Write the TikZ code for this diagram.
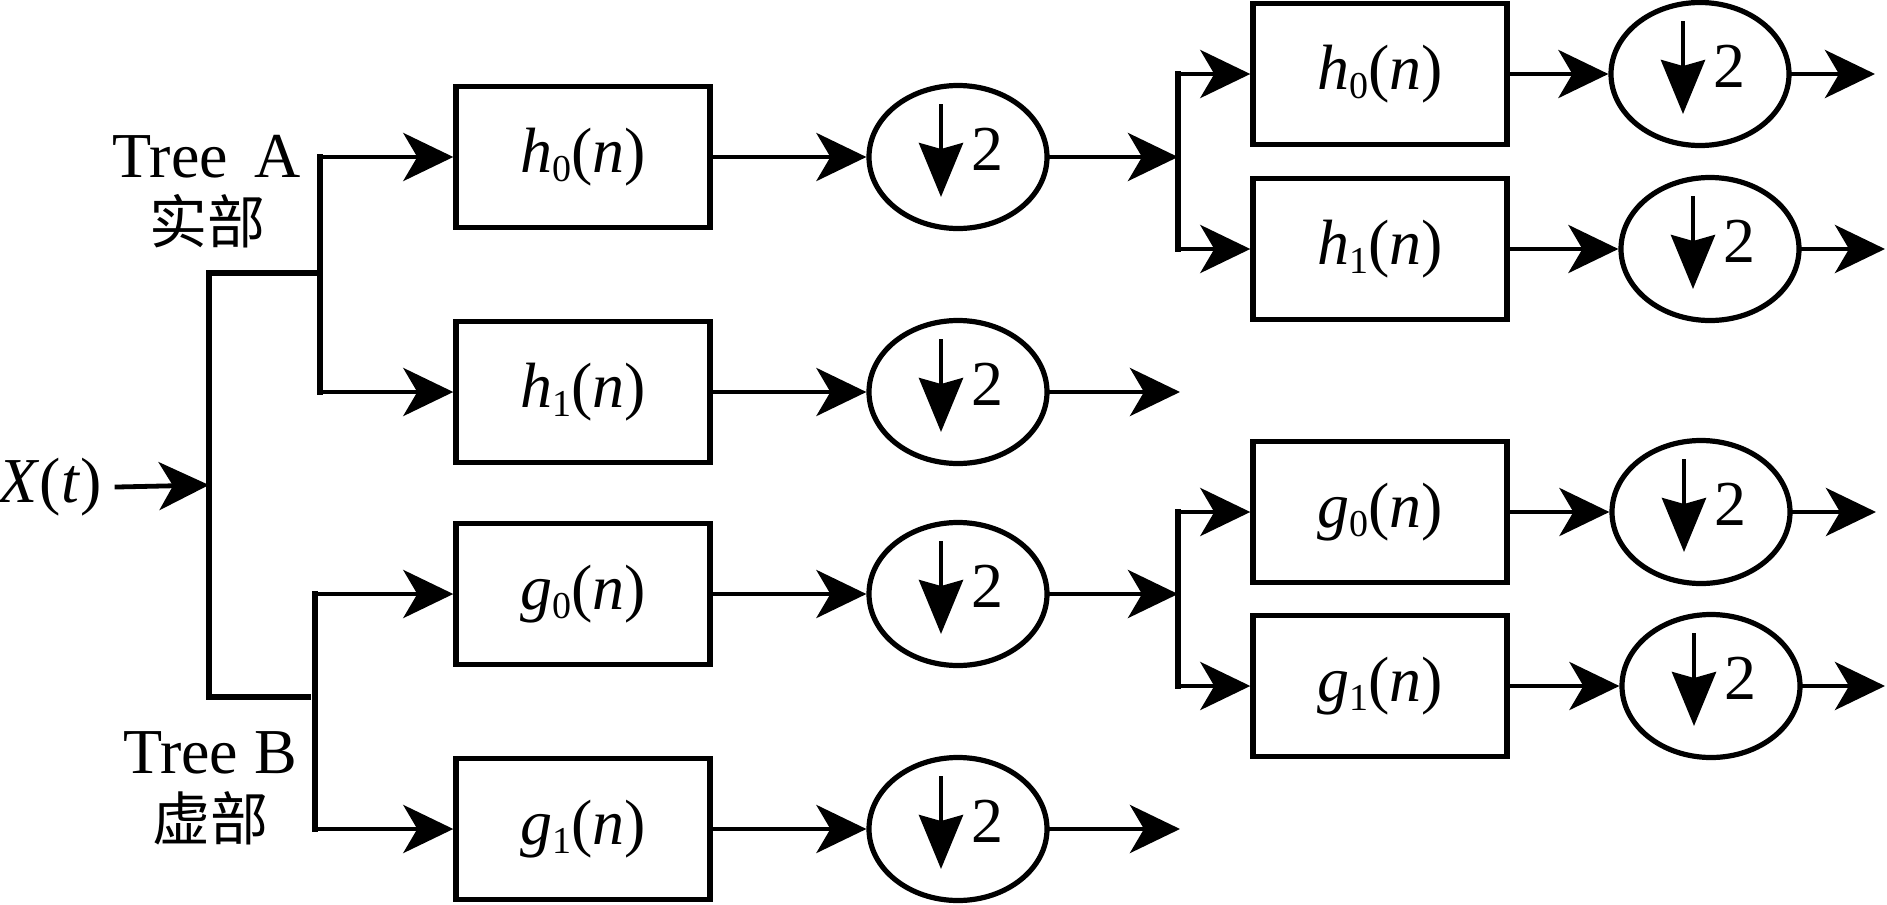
\documentclass[tikz,border=0pt]{standalone}
\usepackage{fontspec}
\usepackage{graphicx}
\setmainfont{Liberation Serif}[ItalicFont={Liberation Serif Italic}]
\newfontfamily\cjkfont{Noto Sans CJK SC}
\usetikzlibrary{arrows.meta,shapes.geometric}
\newcommand{\lowsub}[1]{\raisebox{-0.14em}{\fontsize{19}{19}\selectfont #1}}
\tikzset{
  fbox/.style={draw, line width=2.7pt, minimum width=127pt, minimum height=70.5pt, inner sep=0pt, font=\fontsize{32}{38}\selectfont},
  dsell/.style={draw, ellipse, line width=2.6pt, minimum width=89pt, minimum height=71.5pt, inner sep=0pt},
  conn/.style={line width=2.4pt, line cap=rect, -{Stealth[length=25pt,width=24pt,inset=7pt]}},
  wire/.style={line width=2.6pt, line cap=rect},
  dnarrow/.style={line width=2.2pt, -{Stealth[length=27pt,width=22pt,inset=3pt]}},
  lbl/.style={font=\fontsize{32}{38}\selectfont, inner sep=0pt},
  cjklbl/.style={font=\cjkfont\fontsize{29}{34}\selectfont, inner sep=0pt},
  twolbl/.style={font=\fontsize{32}{38}\selectfont, inner sep=0pt},
}
\newcommand{\downsamp}[2]{%
  \draw[dnarrow] ([shift={(-17,-53)}]#1.center) -- ([shift={(-17,40)}]#1.center);
  \node[twolbl] (#2) at ([shift={(29,-8)}]#1.center) {2};
}
\begin{document}
\begin{tikzpicture}[x=0.5pt, y=-0.5pt]
\useasboundingbox (0,0) rectangle (1887,905);

% input
\node[lbl, anchor=east] (X) at (102,487) {\textit{X}(\textit{t})};
\coordinate (trM) at (209,485);
\coordinate (trA) at (209,273);
\coordinate (trB) at (209,697);
\coordinate (A0) at (320,273);
\coordinate (B0) at (308,697);
\coordinate (Bx) at (315,697);

% labels
\node[lbl, anchor=base] (tA) at (207,177) {Tree\hspace{0.42em}A};
\node[cjklbl] (cA) at (207,221) {实部};
\node[lbl, anchor=base] (tB) at (210,773) {Tree B};
\node[cjklbl] (cB) at (210,818) {虚部};

% column 1 filters
\node[fbox] (h0a) at (583,157) {\textit{h}\lowsub{0}(\textit{n})};
\node[fbox] (h1a) at (583,392) {\textit{h}\lowsub{1}(\textit{n})};
\node[fbox] (g0a) at (583,594) {\textit{g}\lowsub{0}(\textit{n})};
\node[fbox] (g1a) at (583,829) {\textit{g}\lowsub{1}(\textit{n})};

% column 1 downsamplers
\node[dsell] (h0b) at (958,157) {};
\node[dsell] (h1b) at (958,392) {};
\node[dsell] (g0b) at (958,594) {};
\node[dsell] (g1b) at (958,829) {};
\downsamp{h0b}{h0bt}
\downsamp{h1b}{h1bt}
\downsamp{g0b}{g0bt}
\downsamp{g1b}{g1bt}

% column 2 filters
\node[fbox] (h0c) at (1380,74) {\textit{h}\lowsub{0}(\textit{n})};
\node[fbox] (h1c) at (1380,249) {\textit{h}\lowsub{1}(\textit{n})};
\node[fbox] (g0c) at (1380,512) {\textit{g}\lowsub{0}(\textit{n})};
\node[fbox] (g1c) at (1380,686) {\textit{g}\lowsub{1}(\textit{n})};

% column 2 downsamplers
\node[dsell] (h0d) at (1700,74) {};
\node[dsell] (h1d) at (1710,249) {};
\node[dsell] (g0d) at (1701,512) {};
\node[dsell] (g1d) at (1711,686) {};
\downsamp{h0d}{h0dt}
\downsamp{h1d}{h1dt}
\downsamp{g0d}{g0dt}
\downsamp{g1d}{g1dt}

% branch coordinates
\coordinate (hv) at (1178,157);
\coordinate (gv) at (1178,594);
\coordinate (oh1) at (1180,392);
\coordinate (og1) at (1180,829);
\coordinate (oh0d) at (1875,74);
\coordinate (oh1d) at (1885,249);
\coordinate (og0d) at (1876,512);
\coordinate (og1d) at (1885,686);

% trunk and trees
\draw[conn] ([xshift=7.5pt]X.east) -- (trM);
\draw[wire] (trA) -- (trB);
\draw[wire] (trA) -- (A0);
\draw[wire] (trB) -- (B0);
\draw[wire] (h0a.west -| A0) -- (h1a.west -| A0);
\draw[conn] (h0a.west -| A0) -- (h0a.west);
\draw[conn] (h1a.west -| A0) -- (h1a.west);
\draw[wire] (g0a.west -| Bx) -- (g1a.west -| Bx);
\draw[conn] (g0a.west -| Bx) -- (g0a.west);
\draw[conn] (g1a.west -| Bx) -- (g1a.west);

% column 1 connections
\draw[conn] (h0a.east) -- (h0b.west);
\draw[conn] (h1a.east) -- (h1b.west);
\draw[conn] (g0a.east) -- (g0b.west);
\draw[conn] (g1a.east) -- (g1b.west);
\draw[conn] (h0b.east) -- (hv);
\draw[conn] (g0b.east) -- (gv);
\draw[conn] (h1b.east) -- (oh1);
\draw[conn] (g1b.east) -- (og1);

% second level branches
\draw[wire] (h0c.west -| hv) -- (h1c.west -| hv);
\draw[conn] (h0c.west -| hv) -- (h0c.west);
\draw[conn] (h1c.west -| hv) -- (h1c.west);
\draw[wire] (g0c.west -| gv) -- (g1c.west -| gv);
\draw[conn] (g0c.west -| gv) -- (g0c.west);
\draw[conn] (g1c.west -| gv) -- (g1c.west);

% column 2 connections
\draw[conn] (h0c.east) -- (h0d.west);
\draw[conn] (h1c.east) -- (h1d.west);
\draw[conn] (g0c.east) -- (g0d.west);
\draw[conn] (g1c.east) -- (g1d.west);
\draw[conn] (h0d.east) -- (oh0d);
\draw[conn] (h1d.east) -- (oh1d);
\draw[conn] (g0d.east) -- (og0d);
\draw[conn] (g1d.east) -- (og1d);
\end{tikzpicture}
\end{document}
